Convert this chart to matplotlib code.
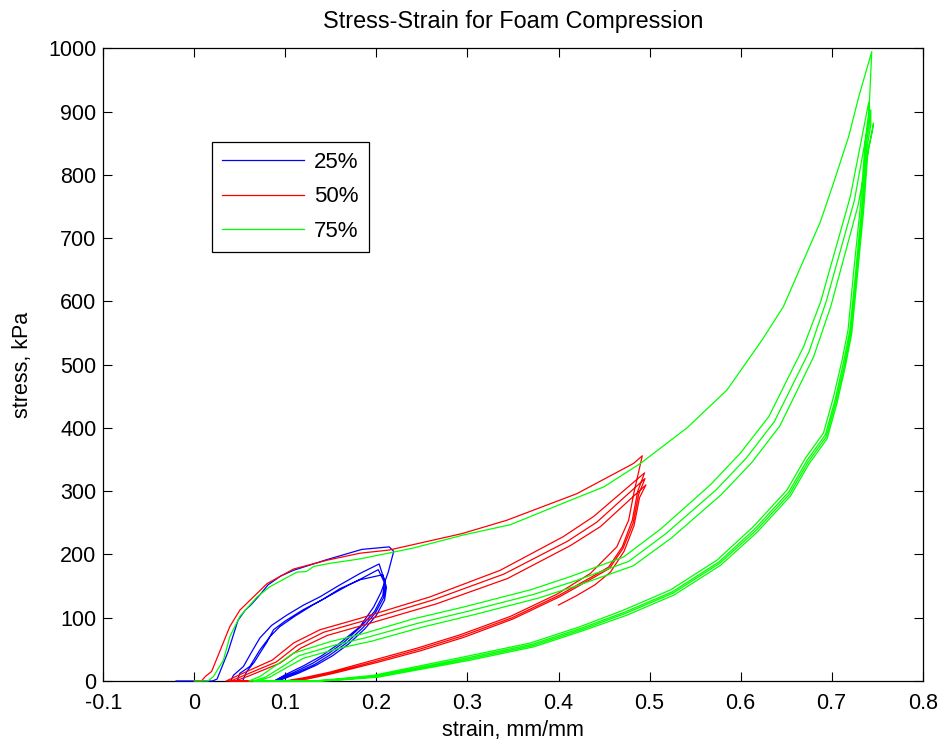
import numpy as np
import matplotlib
matplotlib.use('Agg')
import matplotlib.pyplot as plt

plt.rcParams['font.family'] = ['Liberation Sans', 'DejaVu Sans']

# 25% compression: first cycle then three repeat cycles (strain, stress kPa)
b1_x = [-0.02, 0.02, 0.025, 0.037, 0.048, 0.056, 0.062, 0.072, 0.081, 0.095, 0.109, 0.146, 0.184, 0.214, 0.219,
        0.213, 0.205, 0.197, 0.182, 0.16, 0.14, 0.12, 0.10, 0.088]
b1_y = [0, 0, 3, 46, 96, 112, 120, 136, 152, 166, 175, 192, 208, 212, 205,
        172, 140, 117, 86, 60, 40, 24, 10, 0]
b2_x = [0.04, 0.043, 0.054, 0.063, 0.072, 0.085, 0.1015, 0.12, 0.138, 0.16, 0.182, 0.203,
        0.209, 0.207, 0.198, 0.183, 0.165, 0.148, 0.13, 0.11, 0.095, 0.088]
b2_y = [0, 9, 23, 46, 68, 88, 104, 120, 133, 152, 170, 185,
        158, 135, 110, 86, 62, 44, 28, 14, 5, 0]
b3_x = [0.047, 0.050, 0.061, 0.072, 0.083, 0.094, 0.11, 0.13, 0.15, 0.17, 0.185, 0.202,
        0.21, 0.208, 0.199, 0.185, 0.167, 0.15, 0.132, 0.112, 0.097, 0.09]
b3_y = [0, 12, 23, 49, 70, 86, 102, 120, 136, 152, 163, 176,
        152, 132, 108, 84, 60, 42, 26, 13, 4, 0]
b4_x = [0.053, 0.0576, 0.066, 0.072, 0.08, 0.087, 0.10, 0.12, 0.14, 0.16, 0.182, 0.207,
        0.211, 0.209, 0.2, 0.187, 0.169, 0.152, 0.134, 0.114, 0.099, 0.092]
b4_y = [0, 15, 30, 44, 62, 81, 95, 113, 128, 146, 160, 168,
        148, 128, 104, 82, 58, 40, 25, 12, 4, 0]

# 50% compression
r1_x = [0.0, 0.008, 0.012, 0.019, 0.030, 0.039, 0.050, 0.065, 0.080, 0.109, 0.146, 0.182, 0.214, 0.294, 0.343,
        0.42, 0.4825, 0.492,
        0.483, 0.477, 0.464, 0.435, 0.398, 0.347, 0.292, 0.245, 0.197, 0.149, 0.12, 0.10]
r1_y = [0, 0, 7, 15, 54, 86, 112, 133, 154, 177, 191, 202, 207, 233, 254,
        296, 344, 356,
        299, 254, 212, 170, 137, 102, 73, 52, 33, 14, 5, 0]
r2_x = [0.035, 0.05, 0.0856, 0.109, 0.138, 0.182, 0.259, 0.336, 0.405, 0.4385, 0.4945,
        0.487, 0.481, 0.47, 0.455, 0.437, 0.40, 0.349, 0.294, 0.247, 0.199, 0.151, 0.122, 0.103]
r2_y = [0, 10, 33, 60, 81, 99, 133, 175, 228, 260, 329,
        300, 254, 212, 180, 165, 135, 100, 71, 50, 31, 13, 4, 0]
r3_x = [0.04, 0.055, 0.09, 0.113, 0.142, 0.186, 0.262, 0.34, 0.41, 0.442, 0.495,
        0.488, 0.482, 0.471, 0.456, 0.438, 0.401, 0.35, 0.296, 0.249, 0.2, 0.153, 0.124, 0.105]
r3_y = [0, 9, 30, 56, 77, 95, 128, 169, 221, 251, 320,
        295, 250, 210, 178, 163, 133, 98, 69, 48, 29, 12, 3, 0]
r4_x = [0.045, 0.06, 0.094, 0.117, 0.146, 0.19, 0.266, 0.344, 0.413, 0.446, 0.496,
        0.489, 0.483, 0.472, 0.457, 0.44, 0.42, 0.40]
r4_y = [0, 8, 28, 52, 72, 90, 122, 162, 214, 244, 310,
        290, 246, 205, 172, 152, 135, 120]

# 75% compression
g1_x = [0.0, 0.015, 0.021, 0.032, 0.039, 0.050, 0.069, 0.083, 0.1125, 0.123, 0.131, 0.149, 0.182, 0.24, 0.296,
        0.347, 0.405, 0.45, 0.49, 0.541, 0.585, 0.6235, 0.647, 0.6876, 0.702, 0.7187, 0.730, 0.744,
        0.741, 0.7396, 0.737, 0.7315, 0.724, 0.718, 0.7114, 0.702, 0.691, 0.671, 0.651, 0.614, 0.574, 0.523,
        0.4714, 0.424, 0.369, 0.296, 0.197, 0.149, 0.13]
g1_y = [0, 0, 7, 33, 70, 102, 133, 149, 172, 173, 181, 186, 193, 210, 231,
        247, 281, 307, 344, 400, 460, 539, 592, 726, 787, 861, 925, 995,
        900, 887, 855, 750, 645, 555, 507, 449, 392, 352, 302, 244, 191, 144,
        112, 86, 60, 38, 9, 2, 0]
g2_x = [0.06, 0.072, 0.09, 0.109, 0.149, 0.186, 0.24, 0.296, 0.369, 0.413, 0.4714, 0.512, 0.5667, 0.5996,
        0.631, 0.669, 0.688, 0.7205, 0.7407,
        0.742, 0.738, 0.733, 0.726, 0.72, 0.713, 0.704, 0.693, 0.673, 0.653, 0.616, 0.576, 0.525, 0.473,
        0.426, 0.371, 0.298, 0.2, 0.152, 0.133]
g2_y = [0, 7, 25, 44, 62, 75, 98, 117, 144, 165, 196, 240, 310, 360,
        418, 528, 600, 766, 915,
        885, 850, 748, 642, 555, 504, 446, 389, 349, 299, 241, 188, 141, 109,
        84, 58, 36, 8, 2, 0]
g3_x = [0.065, 0.078, 0.096, 0.115, 0.155, 0.19, 0.245, 0.3, 0.373, 0.418, 0.477, 0.518, 0.573, 0.606,
        0.637, 0.675, 0.694, 0.725, 0.743,
        0.743, 0.739, 0.734, 0.727, 0.721, 0.714, 0.705, 0.694, 0.674, 0.654, 0.617, 0.577, 0.526, 0.474,
        0.427, 0.372, 0.299, 0.201, 0.153, 0.135]
g3_y = [0, 6, 22, 40, 57, 69, 91, 110, 137, 158, 189, 233, 302, 352,
        410, 520, 600, 760, 903,
        880, 845, 745, 640, 552, 500, 443, 386, 346, 296, 238, 186, 139, 107,
        82, 56, 34, 7, 1, 0]
g4_x = [0.07, 0.083, 0.1, 0.12, 0.16, 0.195, 0.25, 0.305, 0.378, 0.423, 0.482, 0.524, 0.579, 0.612,
        0.643, 0.68, 0.699, 0.729, 0.746,
        0.744, 0.74, 0.735, 0.728, 0.722, 0.715, 0.706, 0.695, 0.675, 0.655, 0.618, 0.578, 0.527, 0.475,
        0.428, 0.373, 0.3, 0.202, 0.154, 0.137]
g4_y = [0, 6, 20, 36, 52, 63, 85, 104, 131, 152, 182, 226, 295, 345,
        403, 512, 592, 752, 882,
        865, 840, 742, 637, 549, 497, 440, 383, 343, 293, 235, 183, 136, 104,
        80, 54, 32, 6, 1, 0]

labels = ['25%', '50%', '75%']
colors = ['#0000ff', '#ff0000', '#00ff00']
x_ticks = [-0.1, 0, 0.1, 0.2, 0.3, 0.4, 0.5, 0.6, 0.7, 0.8]
x_ticklabels = ['-0.1', '0', '0.1', '0.2', '0.3', '0.4', '0.5', '0.6', '0.7', '0.8']
y_ticks = [0, 100, 200, 300, 400, 500, 600, 700, 800, 900, 1000]

series = [
    (b1_x + b2_x + b3_x + b4_x, b1_y + b2_y + b3_y + b4_y),
    (r1_x + r2_x + r3_x + r4_x, r1_y + r2_y + r3_y + r4_y),
    (g1_x + g2_x + g3_x + g4_x, g1_y + g2_y + g3_y + g4_y),
]

fig = plt.figure(figsize=(9.43, 7.47), dpi=100)
ax = fig.add_axes([0.1095, 0.0884, 0.869, 0.8467])

for (sx, sy), c, lab in zip(series, colors, labels):
    ax.plot(np.array(sx), np.array(sy), color=c, lw=0.9, label=lab, clip_on=False, zorder=3)

ax.set_xlim(-0.1, 0.8)
ax.set_ylim(0, 1000)
ax.set_xticks(x_ticks)
ax.set_xticklabels(x_ticklabels)
ax.set_yticks(y_ticks)
ax.set_yticklabels([str(v) for v in y_ticks])
ax.tick_params(direction='in', length=6.5, width=0.8, top=True, right=True, labelsize=15.5)
ax.tick_params(axis='x', pad=9)
ax.tick_params(axis='y', pad=5)
for sp in ax.spines.values():
    sp.set_linewidth(0.9)

ax.set_title('Stress-Strain for Foam Compression', fontsize=16.8, pad=15)
ax.set_xlabel('strain, mm/mm', fontsize=15.5, labelpad=4)
ax.set_ylabel('stress, kPa', fontsize=15.5, labelpad=11)

leg = ax.legend(loc='upper left', bbox_to_anchor=(0.1327, 0.852), borderaxespad=0,
                fontsize=16, handlelength=3.7, handletextpad=0.45, labelspacing=0.6,
                borderpad=0.45, fancybox=False, framealpha=1, edgecolor='black')
leg.get_frame().set_linewidth(0.9)

fig.savefig('out.png', dpi=100)
